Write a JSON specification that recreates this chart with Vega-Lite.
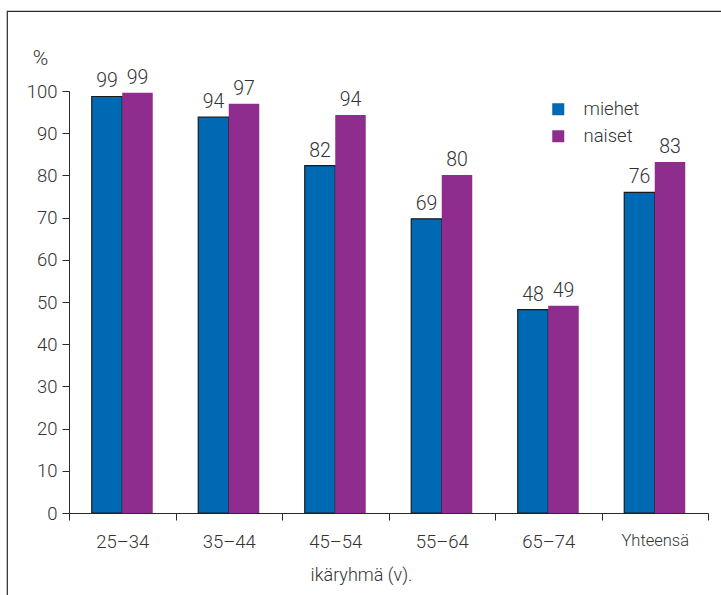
{
  "$schema": "https://vega.github.io/schema/vega-lite/v6.json",
  "autosize": {"type": "none"},
  "padding": {"left": 7, "top": 11, "right": 0, "bottom": 0},
  "width": 716,
  "height": 590,
  "background": "white",
  "config": {
    "view": {"stroke": "#2a2a2a", "strokeWidth": 1.2},
    "font": "Roboto"
  },
  "data": {
    "values": [
      {"g": "25–34", "s": "miehet", "v": 98.7, "l": "99"},
      {"g": "25–34", "s": "naiset", "v": 99.6, "l": "99"},
      {"g": "35–44", "s": "miehet", "v": 93.8, "l": "94"},
      {"g": "35–44", "s": "naiset", "v": 97.0, "l": "97"},
      {"g": "45–54", "s": "miehet", "v": 82.3, "l": "82"},
      {"g": "45–54", "s": "naiset", "v": 94.3, "l": "94"},
      {"g": "55–64", "s": "miehet", "v": 69.7, "l": "69"},
      {"g": "55–64", "s": "naiset", "v": 80.1, "l": "80"},
      {"g": "65–74", "s": "miehet", "v": 48.2, "l": "48"},
      {"g": "65–74", "s": "naiset", "v": 49.1, "l": "49"},
      {"g": "Yhteensä", "s": "miehet", "v": 76.0, "l": "76"},
      {"g": "Yhteensä", "s": "naiset", "v": 83.2, "l": "83"}
    ]
  },
  "encoding": {
    "x": {
      "field": "g",
      "type": "nominal",
      "sort": null,
      "scale": {"range": [62, 701], "paddingInner": 0, "paddingOuter": 0},
      "axis": {
        "offset": -88,
        "tickBand": "extent",
        "tickSize": 7,
        "tickColor": "#2a2a2a",
        "domainColor": "#2a2a2a",
        "labelAngle": 0,
        "labelFont": "Roboto",
        "labelFontWeight": 300,
        "labelFontSize": {"condition": {"test": "datum.value === 'Yhteensä'", "value": 16.5}, "value": 18.5},
        "labelColor": "#333333",
        "labelPadding": 12,
        "title": "ikäryhmä (v).",
        "titleFont": "Roboto",
        "titleFontWeight": 300,
        "titleFontSize": 18,
        "titleColor": "#333333",
        "titleX": 354,
        "titleY": 62,
        "titleAlign": "center",
        "titleBaseline": "middle"
      }
    },
    "xOffset": {
      "field": "s",
      "type": "nominal",
      "scale": {"paddingOuter": 0.746, "paddingInner": 0}
    },
    "y": {
      "field": "v",
      "type": "quantitative",
      "scale": {"domain": [0, 100], "range": [502, 80], "nice": false},
      "axis": {
        "values": [0, 10, 20, 30, 40, 50, 60, 70, 80, 90, 100],
        "offset": -62,
        "grid": false,
        "tickSize": 7,
        "tickColor": "#2a2a2a",
        "domainColor": "#2a2a2a",
        "labelFont": "Roboto",
        "labelFontWeight": 300,
        "labelFontSize": 18.5,
        "labelColor": "#333333",
        "labelPadding": 5,
        "title": "%",
        "titleAngle": 0,
        "titleFont": "Roboto",
        "titleFontWeight": 300,
        "titleFontSize": 21,
        "titleColor": "#333333",
        "titleX": -29,
        "titleY": 47,
        "titleAlign": "center",
        "titleBaseline": "middle"
      }
    }
  },
  "layer": [
    {
      "mark": {"type": "bar", "strokeWidth": 1.2},
      "encoding": {
        "color": {
          "field": "s",
          "type": "nominal",
          "scale": {"domain": ["miehet", "naiset"], "range": ["#0069b4", "#8e2d8e"]},
          "legend": {
            "orient": "none",
            "legendX": 542,
            "legendY": 89,
            "title": null,
            "symbolType": "square",
            "symbolSize": 144,
            "symbolStrokeWidth": 0,
            "labelFont": "Roboto",
            "labelFontWeight": 300,
            "labelFontSize": 18.5,
            "labelColor": "#333333",
            "labelOffset": 16,
            "rowPadding": 8
          }
        },
        "stroke": {
          "condition": {"test": "datum.s === 'miehet'", "value": "#1a1a1a"},
          "value": "transparent"
        }
      }
    },
    {
      "mark": {
        "type": "text",
        "baseline": "alphabetic",
        "dy": -9,
        "font": "Roboto",
        "fontWeight": 300,
        "fontSize": 19.5,
        "color": "#333333"
      },
      "encoding": {
        "text": {"field": "l"}
      }
    }
  ]
}
